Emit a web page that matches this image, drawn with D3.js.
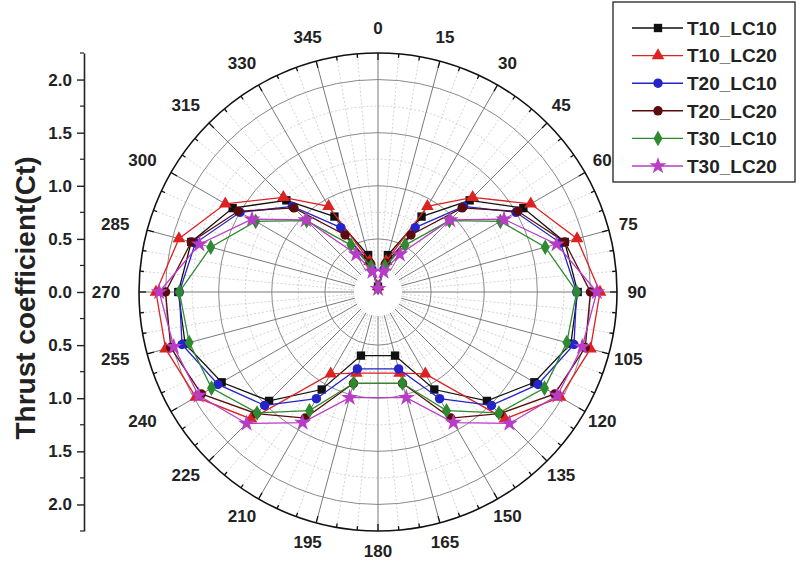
<!DOCTYPE html>
<html lang="en">

<head>
    <meta charset="utf-8">
    <script src='https://d3js.org/d3.v7.min.js'></script>
</head>

<body>

    <style>
        body {
            margin: 0;
            background: #fff;
        }

        svg text {
            font-family: Arial, "Liberation Sans", sans-serif;
            fill: #222;
        }
    </style>

    <script>
        // angles in degrees (no point at 180)
        let angles = [0, 15, 30, 45, 60, 75, 90, 105, 120, 135, 150, 165,
            195, 210, 225, 240, 255, 270, 285, 300, 315, 330, 345];

        let T10_LC10 = [0.05, 0.36, 0.82, 1.22, 1.58, 1.82, 1.88, 1.88, 1.70, 1.45, 1.06, 0.62,
            0.62, 1.06, 1.45, 1.70, 1.88, 1.88, 1.82, 1.58, 1.22, 0.82, 0.36];
        let T10_LC20 = [0.05, 0.30, 0.93, 1.26, 1.66, 1.94, 2.09, 2.07, 1.98, 1.69, 0.89, 0.79,
            0.79, 0.89, 1.69, 1.98, 2.07, 2.09, 1.94, 1.66, 1.26, 0.93, 0.30];
        let T20_LC10 = [0.04, 0.22, 0.70, 1.14, 1.50, 1.78, 1.87, 1.91, 1.74, 1.51, 1.16, 0.75,
            0.75, 1.16, 1.51, 1.74, 1.91, 1.87, 1.78, 1.50, 1.14, 0.70, 0.22];
        let T20_LC20 = [0.04, 0.28, 0.62, 1.12, 1.52, 1.82, 2.00, 2.02, 1.92, 1.62, 1.37, 0.89,
            0.89, 1.37, 1.62, 1.92, 2.02, 2.00, 1.82, 1.52, 1.12, 0.62, 0.28];
        let T30_LC10 = [0.04, 0.25, 0.51, 0.95, 1.33, 1.63, 1.87, 1.84, 1.81, 1.61, 1.29, 0.89,
            0.89, 1.29, 1.61, 1.81, 1.84, 1.87, 1.63, 1.33, 0.95, 0.51, 0.25];
        let T30_LC20 = [0.03, 0.20, 0.41, 0.96, 1.37, 1.74, 2.06, 1.99, 1.95, 1.75, 1.42, 1.03,
            1.03, 1.42, 1.75, 1.95, 1.99, 2.06, 1.74, 1.37, 0.96, 0.41, 0.20];

        let seriesNames = ['T10_LC10', 'T10_LC20', 'T20_LC10', 'T20_LC20', 'T30_LC10', 'T30_LC20'];
        let seriesValues = [T10_LC10, T10_LC20, T20_LC10, T20_LC20, T30_LC10, T30_LC20];
        let colors = ['#111111', '#dd2222', '#2424c8', '#5a0c0c', '#2e8a2e', '#b83cc6'];
        let shapes = [d3.symbolSquare, d3.symbolTriangle, d3.symbolCircle, d3.symbolCircle, d3.symbolDiamond, d3.symbolStar];

        let yTicks = [-2, -1.5, -1, -0.5, 0, 0.5, 1, 1.5, 2];
        let angleTicks = d3.range(0, 360, 15);

        var width = 800, height = 569;
        var cx = 378, cy = 292, R = 239, rMax = 2.25;

        var svg = d3.select("body")
            .append("svg")
            .attr("width", width)
            .attr("height", height);

        var r = d3.scaleLinear().domain([0, rMax]).range([0, R]);
        var rad = function(a) { return a * Math.PI / 180; };

        var polar = svg.append("g").attr("transform", "translate(" + cx + "," + cy + ")");

        // minor circles
        polar.selectAll(".minorc")
            .data(d3.range(0.25, 2.25, 0.5))
            .enter().append("circle")
            .attr("r", function(d) { return r(d); })
            .attr("fill", "none")
            .attr("stroke", "#c8c8c8")
            .attr("stroke-dasharray", "2,2")
            .attr("stroke-width", 0.8);

        // minor spokes every 5 deg
        polar.selectAll(".minors")
            .data(d3.range(0, 360, 5).filter(function(a) { return a % 15 != 0; }))
            .enter().append("line")
            .attr("x1", function(a) { return 24 * Math.sin(rad(a)); })
            .attr("y1", function(a) { return -24 * Math.cos(rad(a)); })
            .attr("x2", function(a) { return R * Math.sin(rad(a)); })
            .attr("y2", function(a) { return -R * Math.cos(rad(a)); })
            .attr("stroke", "#c8c8c8")
            .attr("stroke-dasharray", "2,2")
            .attr("stroke-width", 0.8);

        // major circles
        polar.selectAll(".majorc")
            .data([0.5, 1, 1.5, 2])
            .enter().append("circle")
            .attr("r", function(d) { return r(d); })
            .attr("fill", "none")
            .attr("stroke", "#8a8a8a")
            .attr("stroke-width", 1);

        // major spokes
        polar.selectAll(".majors")
            .data(angleTicks)
            .enter().append("line")
            .attr("x1", function(a) { return 24 * Math.sin(rad(a)); })
            .attr("y1", function(a) { return -24 * Math.cos(rad(a)); })
            .attr("x2", function(a) { return R * Math.sin(rad(a)); })
            .attr("y2", function(a) { return -R * Math.cos(rad(a)); })
            .attr("stroke", "#7a7a7a")
            .attr("stroke-width", 1);

        // outer circle + ticks
        polar.append("circle")
            .attr("r", R)
            .attr("fill", "none")
            .attr("stroke", "#111")
            .attr("stroke-width", 1.6);

        polar.selectAll(".tick5")
            .data(d3.range(0, 360, 5))
            .enter().append("line")
            .attr("x1", function(a) { return R * Math.sin(rad(a)); })
            .attr("y1", function(a) { return -R * Math.cos(rad(a)); })
            .attr("x2", function(a) { var l = a % 15 == 0 ? 7 : 4; return (R - l) * Math.sin(rad(a)); })
            .attr("y2", function(a) { var l = a % 15 == 0 ? 7 : 4; return -(R - l) * Math.cos(rad(a)); })
            .attr("stroke", "#111")
            .attr("stroke-width", 1.3);

        // angle labels (left side ones sit a bit further out)
        polar.selectAll(".alabel")
            .data(angleTicks)
            .enter().append("text")
            .attr("x", function(a) {
                var s = Math.sin(rad(a));
                return 259 * s + (s < 0 ? 13 * s : 0);
            })
            .attr("y", function(a) {
                var c = Math.cos(rad(a));
                return -259 * c - (c > 0 ? 5 * c : 0);
            })
            .attr("dy", "0.35em")
            .attr("text-anchor", "middle")
            .style("font-size", "17px")
            .style("font-weight", "bold")
            .text(function(a) { return a; });

        // series
        var line = d3.lineRadial()
            .angle(function(d) { return rad(d[0]); })
            .radius(function(d) { return r(d[1]); })
            .curve(d3.curveLinearClosed);

        seriesValues.forEach(function(vals, i) {
            var pts = angles.map(function(a, j) { return [a, vals[j]]; });
            var g = polar.append("g");
            g.append("path")
                .attr("d", line(pts))
                .attr("fill", "none")
                .attr("stroke", colors[i])
                .attr("stroke-width", 1.3);
            g.selectAll("path.m")
                .data(pts)
                .enter().append("path")
                .attr("class", "m")
                .attr("transform", function(d) {
                    return "translate(" + (r(d[1]) * Math.sin(rad(d[0]))) + "," + (-r(d[1]) * Math.cos(rad(d[0]))) + ")";
                })
                .attr("d", d3.symbol().type(shapes[i]).size(i == 5 ? 90 : 70))
                .attr("fill", colors[i]);
        });

        // left axis
        var y = d3.scaleLinear().domain([-rMax, rMax]).range([cy + R, cy - R]);
        var axis = svg.append("g")
            .attr("transform", "translate(84,0)")
            .call(d3.axisLeft(y).tickValues(yTicks).tickSize(7).tickSizeOuter(0)
                .tickFormat(function(d) { return Math.abs(d).toFixed(1); }));
        axis.select(".domain").attr("stroke", "#222").attr("stroke-width", 1.6);
        axis.selectAll(".tick line").attr("stroke", "#222").attr("stroke-width", 1.4);
        axis.selectAll(".tick text")
            .attr("x", -12)
            .style("font-size", "17px")
            .style("font-weight", "bold")
            .style("font-family", "Arial, 'Liberation Sans', sans-serif")
            .attr("fill", "#222");
        axis.selectAll(".minor")
            .data(d3.range(-2.25, 2.26, 0.5))
            .enter().append("line")
            .attr("x1", 0).attr("x2", -4)
            .attr("y1", function(d) { return y(d); })
            .attr("y2", function(d) { return y(d); })
            .attr("stroke", "#222")
            .attr("stroke-width", 1.2);

        svg.append("text")
            .attr("transform", "translate(35,298) rotate(-90)")
            .attr("text-anchor", "middle")
            .style("font-size", "28px")
            .style("font-weight", "bold")
            .text("Thrust coefficient(Ct)");

        // legend
        var lg = svg.append("g");
        lg.append("rect")
            .attr("x", 613).attr("y", 2)
            .attr("width", 182).attr("height", 180)
            .attr("fill", "#fff")
            .attr("stroke", "#222")
            .attr("stroke-width", 1.3);

        var item = lg.selectAll(".item")
            .data(seriesNames)
            .enter().append("g")
            .attr("transform", function(d, i) { return "translate(0," + (28 + i * 27.6) + ")"; });
        item.append("line")
            .attr("x1", 632).attr("x2", 683)
            .attr("stroke", function(d, i) { return colors[i]; })
            .attr("stroke-width", 1.4);
        item.append("path")
            .attr("transform", "translate(658,0)")
            .attr("d", function(d, i) { return d3.symbol().type(shapes[i]).size(i == 5 ? 90 : 70)(); })
            .attr("fill", function(d, i) { return colors[i]; });
        item.append("text")
            .attr("x", 687)
            .attr("dy", "0.36em")
            .style("font-size", "19px")
            .style("font-weight", "bold")
            .text(function(d) { return d; });
    </script>
</body>

</html>
